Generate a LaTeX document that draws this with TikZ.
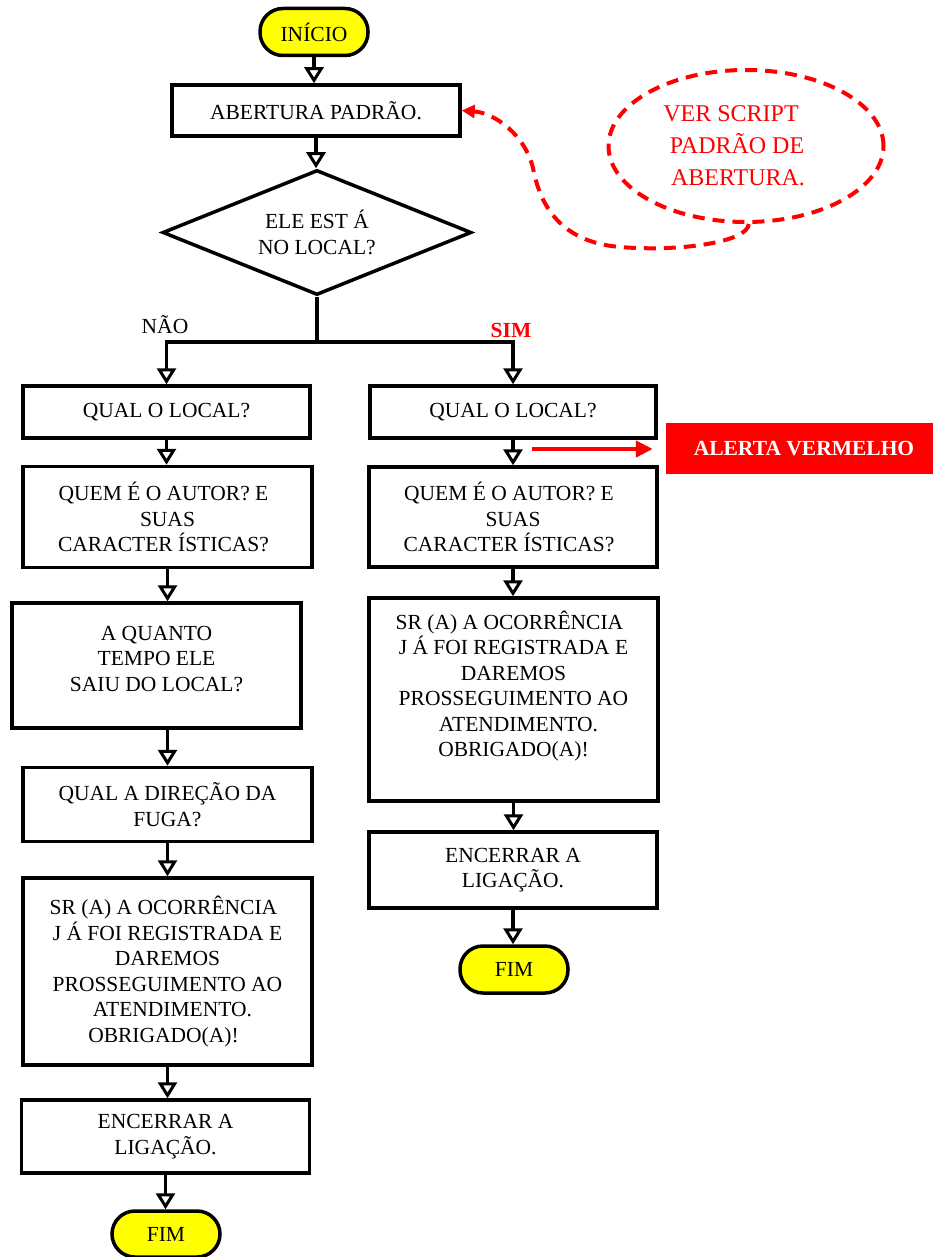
\documentclass[tikz,border=0pt]{standalone}
\usepackage{fontspec}
\setmainfont{Liberation Serif}
\usetikzlibrary{shapes.geometric,arrows.meta}
\definecolor{myyellow}{RGB}{255,255,0}
\definecolor{myred}{RGB}{255,0,0}
\begin{document}
\begin{tikzpicture}[x=1pt,y=-1pt,
  font=\fontsize{21.5}{25.5}\selectfont,
  box/.style={draw, line width=3.5pt, rectangle, align=center, inner sep=0pt},
  pill/.style={draw, line width=3.5pt, fill=myyellow, rounded corners=23pt, minimum width=108pt, minimum height=47pt, inner sep=0pt},
  arr/.style={line width=3.2pt, -{Triangle[length=16pt,width=19pt,line width=3pt,fill=white]}},
  reddash/.style={draw=myred, line width=4pt, dash pattern=on 12pt off 8pt},
]
\useasboundingbox (0,0) rectangle (933,1257);

% top
\node[pill] (start) at (314,32) {INÍCIO};
\node[box, minimum width=288pt, minimum height=51pt] (ab) at (316,110.5) {ABERTURA PADRÃO.};
\node[diamond, draw, line width=3.5pt, aspect=2.5, minimum width=309pt, minimum height=125pt, inner sep=0pt, align=center] (dia) at (317,232.5) {ELE EST Á\\NO LOCAL?};

% note ellipse
\node[ellipse, reddash, minimum width=275pt, minimum height=152pt, inner sep=0pt, align=center, text=myred, font=\fontsize{24}{32}\selectfont] (ell) at (746,146) {\raisebox{-3pt}{VER SCRIPT}\hspace*{30pt}\\\hspace*{-18pt}\raisebox{-3pt}{PADRÃO DE}\\\hspace*{-16pt}\raisebox{-3pt}{ABERTURA.}};

% labels
\node (nao) at (165,325) {NÃO};
\node[text=myred, font=\fontsize{21.5}{25.5}\selectfont\bfseries] (sim) at (511,330) {SIM};

% left column
\node[box, minimum width=287pt, minimum height=52pt] (l1) at (166.5,412) {QUAL O LOCAL?};
\node[box, minimum width=289pt, minimum height=101pt] (l2) at (167.5,517) {QUEM É O AUTOR? E\hspace*{8pt}\\SUAS\hspace*{8pt}\\CARACTER ÍSTICAS?\hspace*{8pt}};
\node[box, minimum width=289pt, minimum height=125pt] (l3) at (156.5,665.5) {A QUANTO\\TEMPO ELE\\SAIU DO LOCAL?\\[-12pt]};
\node[box, minimum width=289pt, minimum height=74pt] (l4) at (167.5,804.5) {QUAL A DIREÇÃO DA\\FUGA?};
\node[box, minimum width=289pt, minimum height=187pt] (l5) at (167.5,971.5) {SR (A) A OCORRÊNCIA\hspace*{8pt}\\J Á FOI REGISTRADA E\\DAREMOS\\PROSSEGUIMENTO AO\hspace*{8pt}\\\hspace*{10pt}ATENDIMENTO.\\OBRIGADO(A)!\hspace*{8pt}};
\node[box, minimum width=288pt, minimum height=73pt] (l6) at (165.5,1136.5) {ENCERRAR A\\LIGAÇÃO.};
\node[pill, minimum height=46pt] (lf) at (166,1234) {FIM};

% right column
\node[box, minimum width=286pt, minimum height=52pt] (r1) at (513,412) {QUAL O LOCAL?};
\node[box, minimum width=288pt, minimum height=100pt] (r2) at (513,517) {QUEM É O AUTOR? E\hspace*{8pt}\\SUAS\hspace*{8pt}\\CARACTER ÍSTICAS?\hspace*{8pt}};
\node[box, minimum width=289pt, minimum height=203pt] (r3) at (513.5,699.5) {SR (A) A OCORRÊNCIA\hspace*{8pt}\\J Á FOI REGISTRADA E\\DAREMOS\\PROSSEGUIMENTO AO\hspace*{8pt}\\\hspace*{10pt}ATENDIMENTO.\\OBRIGADO(A)!\hspace*{8pt}\\[6pt]};
\node[box, minimum width=288pt, minimum height=76pt] (r4) at (513,870) {ENCERRAR A\\LIGAÇÃO.};
\node[pill] (rf) at (514,969.5) {FIM};

% alert
\node[fill=myred, minimum width=267pt, minimum height=51pt, inner sep=0pt, text=white, font=\fontsize{21.5}{25.5}\selectfont\bfseries] (alert) at (799.5,448.5) {\hspace*{9pt}ALERTA VERMELHO};

% connectors
\draw[arr] (start.south) -- (start.south |- ab.north);
\draw[arr] (ab.south) -- (ab.south |- dia.north);
\coordinate (split) at (317,342);
\draw[line width=3.2pt] (dia.south) -- (split);
\draw[arr] (split) -| (l1.north);
\draw[arr] (split) -| (r1.north);

\draw[arr] (l1.south) -- (l1.south |- l2.north);
\draw[arr] (l2.south) -- (l2.south |- l3.north);
\draw[arr] (l2.south |- l3.south) -- (l2.south |- l4.north);
\draw[arr] (l4.south) -- (l5.north);
\draw[arr] (l5.south) -- (l5.south |- l6.north);
\draw[arr] (l6.south) -- (l6.south |- lf.north);

\draw[arr] (r1.south) -- (r2.north);
\draw[arr] (r2.south) -- (r2.south |- r3.north);
\draw[arr] (r3.south) -- (r3.south |- r4.north);
\draw[arr] (r4.south) -- (r4.south |- rf.north);

\coordinate (ra) at (532,449);
\draw[myred, line width=4.5pt, -{Triangle[length=17pt,width=16pt]}, shorten >=13pt] (ra) -- (ra -| alert.west);

\draw[reddash, -{Triangle[length=13pt,width=13pt]}] (ell.-88) .. controls (748,242) and (680,252) .. (620,247) .. controls (560,242) and (540,205) .. (533,168) .. controls (525,135) and (495,113) .. (ab.east);
\end{tikzpicture}
\end{document}
